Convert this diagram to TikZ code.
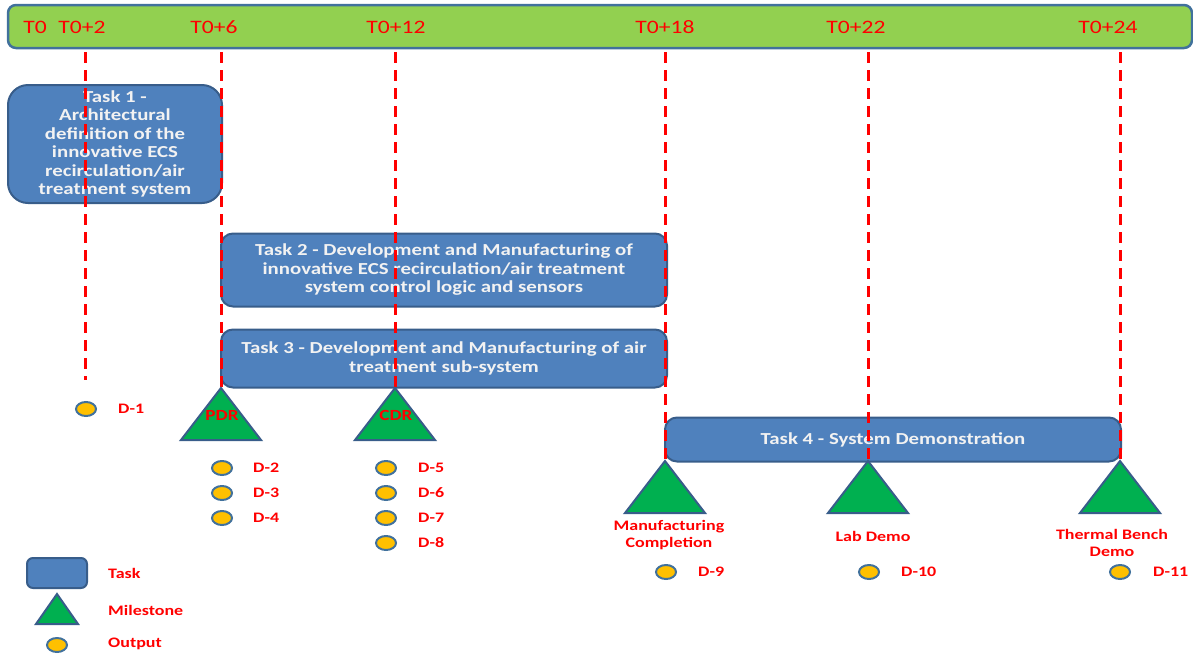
\documentclass[tikz,border=0pt]{standalone}
\usepackage{fontspec}
\setmainfont[FakeStretch=1.24]{Carlito}
\usetikzlibrary{shapes.geometric}
\definecolor{barfill}{HTML}{92D050}
\definecolor{baredge}{HTML}{41719C}
\definecolor{taskfill}{HTML}{4F81BD}
\definecolor{taskedge}{HTML}{385D8A}
\definecolor{tasktext}{HTML}{F2F2F2}
\definecolor{msfill}{HTML}{00B050}
\definecolor{outfill}{HTML}{FFC000}
\definecolor{labred}{HTML}{FF0000}
\begin{document}
\begin{tikzpicture}[x=1pt,y=-1pt,
  taskbox/.style={draw=taskedge, fill=taskfill, line width=2pt, rounded corners=12pt,
    inner sep=0pt, text=tasktext, align=center,
    font=\bfseries\fontsize{16.8}{18.5}\selectfont},
  timelabel/.style={text=labred, inner sep=0pt, font=\fontsize{19}{21}\selectfont},
  deadline/.style={draw=labred, line width=3pt, dash pattern=on 11pt off 7pt},
  milestone/.style={draw=taskedge, fill=msfill, line width=2pt, line join=miter},
  outdot/.style={draw=baredge, fill=outfill, line width=2pt, ellipse, inner sep=0pt,
    minimum width=20pt, minimum height=14pt},
  dlabel/.style={text=labred, inner sep=0pt, anchor=west, font=\bfseries\fontsize{14.5}{17}\selectfont},
  mslabel/.style={text=labred, inner sep=0pt, align=center, font=\bfseries\fontsize{14.5}{17}\selectfont}]
\useasboundingbox (0,0) rectangle (1193,654);

% time axis
\node[draw=baredge, fill=barfill, line width=2.5pt, rounded corners=8pt,
  minimum width=1184pt, minimum height=43pt, inner sep=0pt] (bar) at (600,26.5) {};
\node[timelabel] (t0)  at (35,27)   {T0};
\node[timelabel] (t2)  at (82,27)   {T0+2};
\node[timelabel] (t6)  at (214,27)  {T0+6};
\node[timelabel] (t12) at (396,27)  {T0+12};
\node[timelabel] (t18) at (665,27)  {T0+18};
\node[timelabel] (t22) at (856,27)  {T0+22};
\node[timelabel] (t24) at (1108,27) {T0+24};

% tasks
\node[taskbox, rounded corners=20pt, minimum width=214pt, minimum height=118pt] (task1) at (115,144)
  {Task 1 -\\Architectural\\definition of the\\innovative ECS\\recirculation/air\\treatment system};
\node[taskbox, minimum width=446pt, minimum height=73pt] (task2) at (444,270)
  {Task 2 - Development and Manufacturing of\\innovative ECS recirculation/air treatment\\system control logic and sensors};
\node[taskbox, minimum width=446pt, minimum height=58pt] (task3) at (444,358.5)
  {Task 3 - Development and Manufacturing of air\\treatment sub-system};
\node[taskbox, minimum width=456pt, minimum height=44pt] (task4) at (893,439.5)
  {Task 4 - System Demonstration};

% milestone apexes
\coordinate (pdr) at (221,388);
\coordinate (cdr) at (395,388);
\coordinate (mfg) at (665,461);
\coordinate (lab) at (868,461);
\coordinate (tbd) at (1120,461);
\coordinate (d1end) at (85,380);

% deadlines
\coordinate (top2)  at (85,52);
\coordinate (top6)  at (221,52);
\coordinate (top12) at (395,52);
\coordinate (top18) at (665,52);
\coordinate (top22) at (868,52);
\coordinate (top24) at (1120,52);
\draw[deadline] (top2) -- (d1end);
\draw[deadline] (top6) -- (pdr);
\draw[deadline] (top12) -- (cdr);
\draw[deadline] (top18) -- (mfg);
\draw[deadline] (top22) -- (lab);
\draw[deadline] (top24) -- (tbd);

% milestones
\foreach \m in {pdr,cdr,mfg,lab,tbd}
  \draw[milestone] (\m) -- ++(40,52) -- ++(-80,0) -- cycle;
\node[mslabel, font=\bfseries\fontsize{15.5}{17}\selectfont] (pdrlab) at (222,415) {PDR};
\node[mslabel, font=\bfseries\fontsize{15.5}{17}\selectfont] (cdrlab) at (396,415) {CDR};
\node[mslabel] (mfglab) at (669,535.5) {Manufacturing\\Completion};
\node[mslabel] (lablab) at (873,536) {Lab Demo};
\node[mslabel] (tbdlab) at (1112,542.5) {Thermal Bench\\Demo};

% outputs
\node[outdot] (o1)  at (86,409)  {};  \node[dlabel] at (118,409) {D-1};
\node[outdot] (o2)  at (222,468) {};  \node[dlabel] at (253,468) {D-2};
\node[outdot] (o3)  at (222,493) {};  \node[dlabel] at (253,493) {D-3};
\node[outdot] (o4)  at (222,518) {};  \node[dlabel] at (253,518) {D-4};
\node[outdot] (o5)  at (386,468) {};  \node[dlabel] at (418,468) {D-5};
\node[outdot] (o6)  at (386,493) {};  \node[dlabel] at (418,493) {D-6};
\node[outdot] (o7)  at (386,518) {};  \node[dlabel] at (418,518) {D-7};
\node[outdot] (o8)  at (386,543) {};  \node[dlabel] at (418,543) {D-8};
\node[outdot] (o9)  at (666,572) {};  \node[dlabel] at (698,572) {D-9};
\node[outdot] (o10) at (869,572) {};  \node[dlabel] at (901,572) {D-10};
\node[outdot] (o11) at (1120,572) {}; \node[dlabel] at (1153,572) {D-11};

% legend
\node[draw=taskedge, fill=taskfill, line width=2pt, rounded corners=6pt, inner sep=0pt,
  minimum width=60pt, minimum height=30pt] (legtask) at (57,573) {};
\node[dlabel] (legtasklab) at (108,573) {Task};
\coordinate (legms) at (57,594);
\draw[milestone] (legms) -- ++(21,30) -- ++(-42,0) -- cycle;
\node[dlabel] (legmslab) at (108,610) {Milestone};
\node[outdot] (legout) at (57,645) {};
\node[dlabel] (legoutlab) at (108,644) {Output};
\end{tikzpicture}
\end{document}
